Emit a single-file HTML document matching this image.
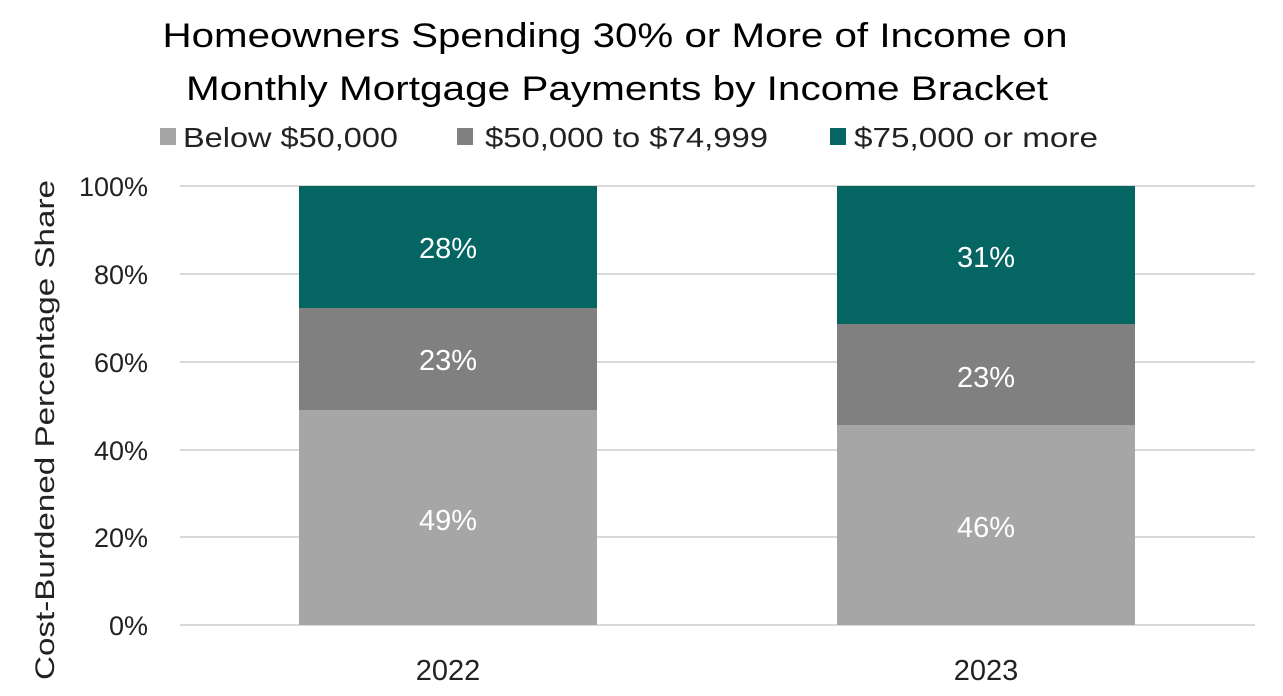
<!DOCTYPE html>
<html><head><style>body{margin:0;background:#fff}svg{display:block}text{font-family:"Liberation Sans",sans-serif}</style></head>
<body>
<svg width="1283" height="696" viewBox="0 0 1283 696" xmlns="http://www.w3.org/2000/svg">
<g font-size="34" fill="#000" text-anchor="middle">
<text x="615" y="47" textLength="905" lengthAdjust="spacingAndGlyphs">Homeowners Spending 30% or More of Income on</text>
<text x="617" y="100" textLength="862" lengthAdjust="spacingAndGlyphs">Monthly Mortgage Payments by Income Bracket</text>
</g>
<g font-size="28" fill="#222">
<rect x="160" y="128" width="16" height="17" fill="#a6a6a6"/>
<text x="183" y="147" textLength="215" lengthAdjust="spacingAndGlyphs">Below $50,000</text>
<rect x="457" y="128" width="16" height="17" fill="#808080"/>
<text x="485" y="147" textLength="283" lengthAdjust="spacingAndGlyphs">$50,000 to $74,999</text>
<rect x="830" y="128" width="16" height="17" fill="#046563"/>
<text x="854" y="147" textLength="244" lengthAdjust="spacingAndGlyphs">$75,000 or more</text>
</g>
<g stroke="#d9d9d9" stroke-width="2">
<line x1="180" y1="186" x2="1255" y2="186"/><line x1="180" y1="274" x2="1255" y2="274"/>
<line x1="180" y1="362" x2="1255" y2="362"/><line x1="180" y1="450" x2="1255" y2="450"/>
<line x1="180" y1="537" x2="1255" y2="537"/><line x1="180" y1="625" x2="1255" y2="625"/>
</g>
<g font-size="27" fill="#222" text-anchor="end">
<text x="148" y="196">100%</text><text x="148" y="284">80%</text><text x="148" y="372">60%</text>
<text x="148" y="460">40%</text><text x="148" y="547">20%</text><text x="148" y="635">0%</text>
</g>
<text transform="translate(54,430) rotate(-90)" font-size="27" fill="#222" text-anchor="middle" textLength="500" lengthAdjust="spacingAndGlyphs">Cost-Burdened Percentage Share</text>
<rect x="299" y="410" width="298" height="215" fill="#a6a6a6"/>
<rect x="299" y="308" width="298" height="102" fill="#808080"/>
<rect x="299" y="186" width="298" height="122" fill="#046563"/>
<rect x="837" y="425" width="298" height="200" fill="#a6a6a6"/>
<rect x="837" y="324" width="298" height="101" fill="#808080"/>
<rect x="837" y="186" width="298" height="138" fill="#046563"/>
<g font-size="29" fill="#fff" text-anchor="middle">
<text x="448" y="258">28%</text><text x="448" y="370">23%</text><text x="448" y="530">49%</text>
<text x="986" y="267">31%</text><text x="986" y="387">23%</text><text x="986" y="537">46%</text>
</g>
<g font-size="29" fill="#222" text-anchor="middle">
<text x="448" y="680">2022</text><text x="986" y="680">2023</text>
</g>
</svg>
</body></html>
